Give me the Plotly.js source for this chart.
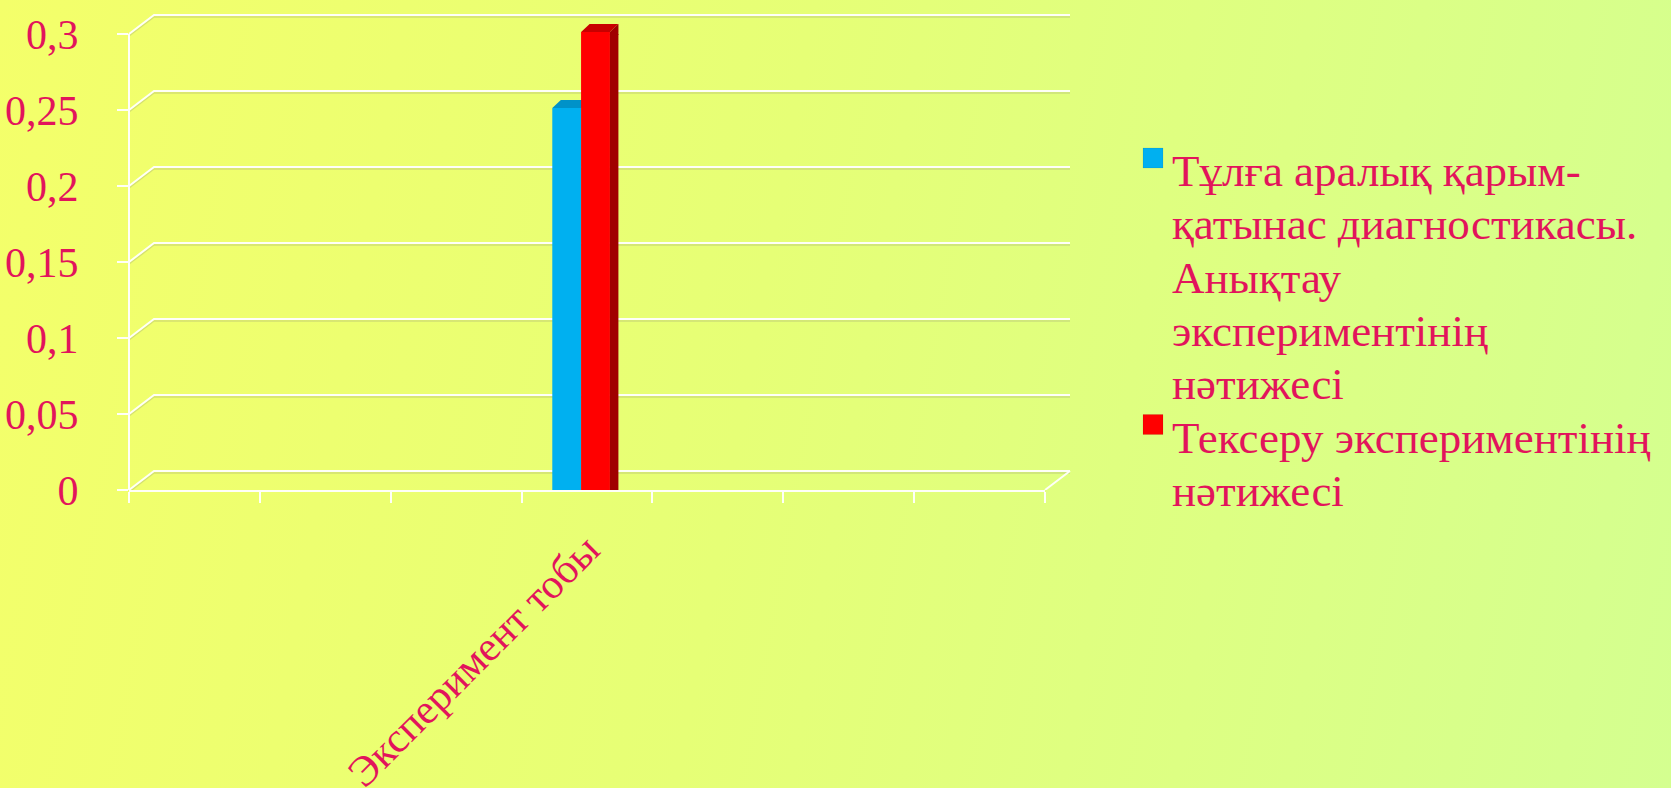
<!DOCTYPE html>
<html>
<head>
<meta charset="utf-8">
<script src="https://cdn.plot.ly/plotly-3.0.1.min.js"></script>
<style>
  html, body { margin: 0; padding: 0; }
  body {
    width: 1671px; height: 788px; overflow: hidden;
    background: linear-gradient(100deg, #F4FF6A 0%, #E6FF76 45%, #D4FF90 100%);
  }
  #chart { width: 1671px; height: 788px; }
</style>
</head>
<body>
<div id="chart"></div>
<script>
// ---- data ----
const categories = ['Эксперимент тобы'];
const categorySlot = [3];          // position among the 7 category slots
const slotCount = 7;
const seriesNames = [
  'Тұлға аралық қарым-қатынас диагностикасы. Анықтау экспериментінің нәтижесі',
  'Тексеру экспериментінің нәтижесі'
];
const legendLines = [
  ['Тұлға аралық қарым-', 'қатынас диагностикасы.', 'Анықтау', 'экспериментінің', 'нәтижесі'],
  ['Тексеру экспериментінің', 'нәтижесі']
];
const seriesValues = [
  [0.25],
  [0.3]
];
const yTicks = [0, 0.05, 0.1, 0.15, 0.2, 0.25, 0.3];
const yMax = 0.3;

// ---- style ----
const textColor = '#E2145C';
const fontFam = '"Liberation Serif", "Times New Roman", serif';
const lineColor = 'rgba(255,255,255,0.95)';
const shadowColor = 'rgba(160,165,120,0.35)';
const frontColors = ['#00B0F0', '#FF0000'];
const topColors = ['#0092C8', '#C80000'];
const sideColor = '#A00000';
const mlw = 4;
const barW = 0.19;
const offsets = [-0.25, -0.03];
const depthX = 0.065;  // depth shift in data units of x
const depthPx = 8;     // depth rise in pixels

const W = 1671, H = 788;
const L = 129, R = 1070, T = 10, B = 490;
const plotW = R - L, plotH = B - T;
const frontXEnd = (1045 - L) / plotW;
const backXFrac = 25 / plotW;
const rangeTop = yMax * plotH / (B - 34);
const px = v => (v - L) / plotW;
const py = v => 1 - (v - T) / plotH;

const traces = seriesValues.map((vals, i) => ({
  type: 'bar',
  name: seriesNames[i],
  x: categorySlot,
  y: vals,
  width: barW,
  offset: offsets[i],
  marker: { color: frontColors[i], line: { width: mlw, color: frontColors[i] } },
  hoverinfo: 'y'
}));

const shapes = [];
// back-wall grid lines with diagonal connectors from the front axis
yTicks.forEach(v => {
  shapes.push({
    type: 'path', xref: 'paper', yref: 'y', ysizemode: 'pixel', yanchor: v,
    path: `M 0,-2 L ${backXFrac},17 L 1,17`,
    line: { color: shadowColor, width: 1.5 }, layer: 'below'
  });
  shapes.push({
    type: 'path', xref: 'paper', yref: 'y', ysizemode: 'pixel', yanchor: v,
    path: `M 0,0 L ${backXFrac},19 L 1,19`,
    line: { color: lineColor, width: 2 }, layer: 'below'
  });
});
// floor right edge
shapes.push({
  type: 'path', xref: 'paper', yref: 'y', ysizemode: 'pixel', yanchor: 0,
  path: `M ${frontXEnd},0 L 1,19`,
  line: { color: lineColor, width: 2 }, layer: 'below'
});
// front value axis line
shapes.push({
  type: 'line', xref: 'paper', yref: 'y', x0: 0, x1: 0, y0: 0, y1: yMax,
  line: { color: lineColor, width: 2 }, layer: 'below'
});
// 3D tops and side of bars
seriesValues.forEach((vals, i) => {
  vals.forEach((v, j) => {
    const pad = 0.015; // half outline in data units (approx)
    const left = categorySlot[j] + offsets[i] - pad;
    const right = categorySlot[j] + offsets[i] + barW + pad;
    shapes.push({
      type: 'path', xref: 'x', yref: 'y', ysizemode: 'pixel', yanchor: v,
      path: `M ${left},2 L ${left + depthX},${depthPx + 2} L ${right + depthX},${depthPx + 2} L ${right},2 Z`,
      fillcolor: topColors[i], line: { width: 0 }, layer: i === 0 ? 'below' : 'above'
    });
    if (i === seriesValues.length - 1) {
      shapes.push({
        type: 'rect', xref: 'x', yref: 'y',
        x0: right, x1: right + depthX, y0: 0, y1: v,
        fillcolor: sideColor, line: { width: 0 }, layer: 'above'
      });
      shapes.push({
        type: 'path', xref: 'x', yref: 'y', ysizemode: 'pixel', yanchor: v,
        path: `M ${right},-1 L ${right},2 L ${right + depthX},${depthPx + 2} L ${right + depthX},-1 Z`,
        fillcolor: sideColor, line: { width: 0 }, layer: 'above'
      });
    }
  });
});

// legend (drawn as squares + text lines to keep the original tight line spacing)
const annotations = [];
const legendTextX = px(1170);
const lineStep = 53.3;
let lineIdx = 0;
legendLines.forEach((lines, i) => {
  const firstCenter = 171 + lineStep * lineIdx;
  shapes.push({
    type: 'rect', xref: 'paper', yref: 'paper',
    x0: px(1143), x1: px(1163), y0: py(firstCenter - 23), y1: py(firstCenter - 3),
    fillcolor: frontColors[i], line: { color: 'rgba(0,0,0,0.15)', width: 0.5 }
  });
  lines.forEach(t => {
    annotations.push({
      xref: 'paper', yref: 'paper', x: legendTextX, y: py(171 + lineStep * lineIdx),
      xanchor: 'left', yanchor: 'middle', showarrow: false, text: t,
      font: { family: fontFam, color: textColor, size: 45 }
    });
    lineIdx++;
  });
});

const layout = {
  width: W, height: H,
  margin: { l: L, r: W - R, t: T, b: H - B, pad: 0 },
  paper_bgcolor: 'rgba(0,0,0,0)',
  plot_bgcolor: 'rgba(0,0,0,0)',
  separators: ',.',
  showlegend: false,
  font: { family: fontFam, color: textColor, size: 42 },
  xaxis: {
    domain: [0, frontXEnd], range: [-0.5, slotCount - 0.5],
    tickmode: 'array', tickvals: categorySlot, ticktext: categories,
    ticks: '', tickangle: -45, ticklabelstandoff: 16,
    tickfont: { family: fontFam, color: textColor, size: 42 },
    minor: { ticks: 'outside', ticklen: 11, tickwidth: 2, tickcolor: lineColor,
             tick0: -0.5, dtick: 1, showgrid: false },
    showline: true, linecolor: lineColor, linewidth: 2,
    showgrid: false, zeroline: false, fixedrange: true
  },
  yaxis: {
    domain: [0, 1], range: [0, rangeTop],
    tickmode: 'array', tickvals: yTicks,
    ticks: 'outside', ticklen: 11, tickwidth: 2, tickcolor: lineColor,
    showline: false, showgrid: false, zeroline: false, ticklabelstandoff: 30,
    tickfont: { family: fontFam, color: textColor, size: 42 }
  },
  shapes: shapes,
  annotations: annotations
};

Plotly.newPlot('chart', traces, layout, { displayModeBar: false, staticPlot: true });
</script>
</body>
</html>
